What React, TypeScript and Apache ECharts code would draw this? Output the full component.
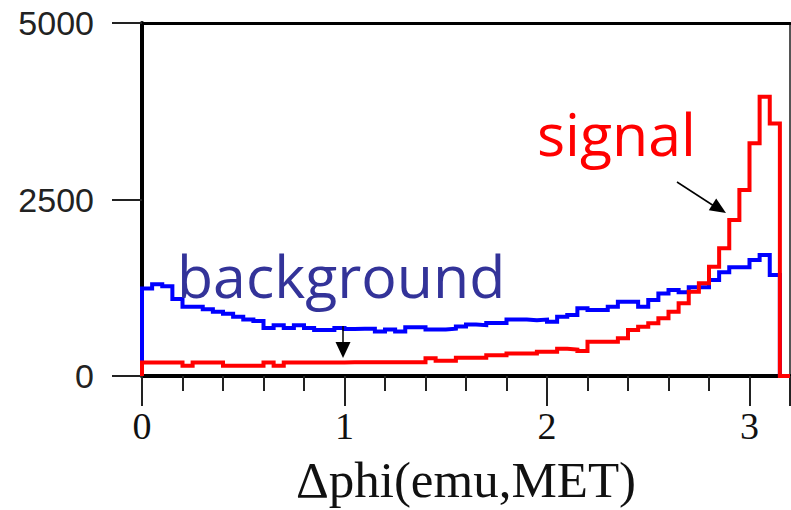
import React, { useEffect, useRef } from "react";
import * as echarts from "echarts";

const BIN_WIDTH = 0.05;
const X_TICKS = [0, 1, 2, 3];
const Y_TICKS = [0, 2500, 5000];
const X_TITLE = "\u0394phi(emu,MET)";

const background = [
  1240, 1300, 1270, 1090, 980, 980, 945, 910, 880, 840,
  800, 780, 680, 720, 680, 720, 680, 650, 650, 680,
  665, 670, 670, 630, 660, 630, 690, 690, 660, 660,
  670, 700, 730, 720, 750, 750, 800, 800, 790, 800,
  770, 840, 864, 958, 935, 935, 980, 1050, 1050, 980,
  1076, 1170, 1218, 1185, 1256, 1256, 1360, 1468, 1539, 1539,
  1643, 1713, 1430,
];

const signal = [
  190, 190, 190, 190, 145, 190, 190, 190, 145, 145,
  145, 145, 190, 145, 190, 190, 190, 190, 190, 190,
  195, 195, 195, 195, 195, 195, 195, 195, 250, 215,
  215, 260, 260, 260, 295, 295, 320, 320, 320, 345,
  345, 385, 375, 355, 486, 486, 486, 533, 651, 699,
  746, 817, 911, 1029, 1194, 1312, 1548, 1808, 2209, 2634,
  3295, 3955, 3578,
];

function stepPoints(vals: number[], tailTo?: number) {
  const pts: number[][] = [[0, 0]];
  vals.forEach((v, i) => {
    pts.push([i * BIN_WIDTH, v]);
    pts.push([(i + 1) * BIN_WIDTH, v]);
  });
  pts.push([vals.length * BIN_WIDTH, 0]);
  if (tailTo !== undefined) pts.push([tailTo, 0]);
  return pts;
}

export default function App() {
  const ref = useRef<HTMLDivElement>(null);
  useEffect(() => {
    if (!ref.current) return;
    const chart = echarts.init(ref.current, null, { renderer: "svg" });
    const xMax = 3.2;
    chart.setOption({
      animation: false,
      backgroundColor: "#ffffff",
      grid: { left: 142, right: 1, top: 23, bottom: 134, containLabel: false, outerBoundsMode: "none" },
      xAxis: [
        {
          type: "value",
          min: 0,
          max: xMax,
          interval: 1,
          position: "bottom",
          axisLine: { show: true, onZero: false, lineStyle: { color: "#000", width: 4 } },
          axisTick: { show: true, inside: false, length: 30, lineStyle: { color: "#222", width: 2 } },
          minorTick: { show: true, splitNumber: 5, length: 15, lineStyle: { color: "#222", width: 2 } },
          splitLine: { show: false },
          minorSplitLine: { show: false },
          axisLabel: {
            margin: 31,
            fontFamily: "Liberation Serif",
            fontSize: 38,
            color: "#111",
            formatter: (v: number) => (X_TICKS.includes(v) ? String(v) : ""),
          },
          name: X_TITLE,
          nameLocation: "middle",
          nameGap: 78,
          nameTextStyle: { fontFamily: "Liberation Serif", fontSize: 51, color: "#111" },
        },
        {
          type: "value",
          min: 0,
          max: 1,
          position: "top",
          axisLine: { show: true, onZero: false, lineStyle: { color: "#000", width: 3 } },
          axisTick: { show: false },
          axisLabel: { show: false },
          splitLine: { show: false },
        },
      ],
      yAxis: [
        {
          type: "value",
          min: 0,
          max: 5000,
          interval: 2500,
          position: "left",
          axisLine: { show: true, onZero: false, lineStyle: { color: "#000", width: 4 } },
          axisTick: { show: true, inside: false, length: 30, lineStyle: { color: "#222", width: 2 } },
          splitLine: { show: false },
          axisLabel: {
            margin: 48,
            fontFamily: "Liberation Sans",
            fontSize: 34,
            color: "#222",
            formatter: (v: number) => (Y_TICKS.includes(v) ? String(v) : ""),
          },
        },
        {
          type: "value",
          min: 0,
          max: 1,
          position: "right",
          axisLine: { show: true, onZero: false, lineStyle: { color: "#555", width: 2 } },
          axisTick: { show: false },
          axisLabel: { show: false },
          splitLine: { show: false },
        },
      ],
      series: [
        {
          name: "background",
          type: "line",
          data: stepPoints(background),
          showSymbol: false,
          symbol: "none",
          lineStyle: { color: "#0000ff", width: 4, join: "miter", cap: "butt" },
          z: 2,
        },
        {
          name: "signal",
          type: "line",
          data: stepPoints(signal, xMax),
          showSymbol: false,
          symbol: "none",
          lineStyle: { color: "#ff0000", width: 4, join: "miter", cap: "butt" },
          z: 3,
        },
      ],
      graphic: [
        {
          type: "text",
          left: 177,
          top: 245,
          z: 10,
          style: {
            text: "background",
            fontFamily: "Open Sans",
            fontSize: 59,
            fill: "#333399",
          },
        },
        {
          type: "text",
          left: 537,
          top: 103,
          z: 10,
          style: {
            text: "signal",
            fontFamily: "Open Sans",
            fontSize: 59,
            fill: "#ff0000",
          },
        },
        {
          type: "line",
          z: 10,
          shape: { x1: 343, y1: 326, x2: 343, y2: 345 },
          style: { stroke: "#000", lineWidth: 1.5 },
        },
        {
          type: "polygon",
          z: 10,
          shape: { points: [[335.5, 342], [350.5, 342], [343, 358]] },
          style: { fill: "#000" },
        },
        {
          type: "line",
          z: 10,
          shape: { x1: 677, y1: 182, x2: 714, y2: 206 },
          style: { stroke: "#000", lineWidth: 1.5 },
        },
        {
          type: "polygon",
          z: 10,
          shape: { points: [[708.8, 210.3], [716.2, 198.5], [726, 213]] },
          style: { fill: "#000" },
        },
      ],
    });
    return () => chart.dispose();
  }, []);
  return (
    <div
      ref={ref}
      style={{ position: "fixed", left: 0, top: 0, width: 791, height: 510, background: "#fff" }}
    />
  );
}
